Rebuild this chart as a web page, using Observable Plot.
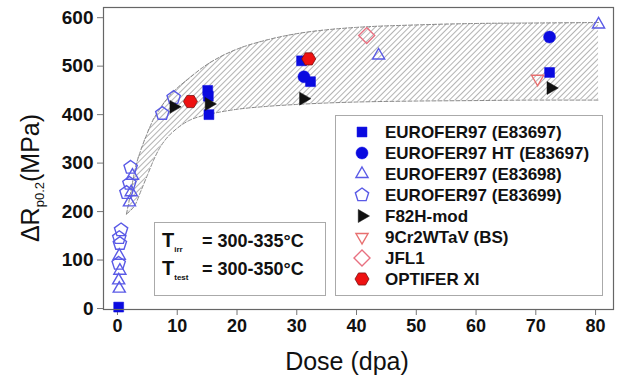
<!DOCTYPE html>
<html><head><meta charset="utf-8">
<script src="https://cdn.jsdelivr.net/npm/d3@7"></script>
<script src="https://cdn.jsdelivr.net/npm/@observablehq/plot@0.6"></script>
<style>
body{margin:0;background:#fff;font-family:"Liberation Sans",Arial,sans-serif}
#wrap{position:relative;width:630px;height:378px;overflow:hidden}
.ov{position:absolute}
</style></head><body><div id="wrap"></div>
<script>
// ---- tick labels
const xTicks = [0, 10, 20, 30, 40, 50, 60, 70, 80];
const yTicks = [0, 100, 200, 300, 400, 500, 600];

// ---- series (dose in dpa, ΔRp0.2 in MPa)
const e83697Dose = [0.2, 15.1, 15.2, 15.3, 30.8, 32.3, 72.3];
const e83697Val  = [3, 450, 438, 400, 511, 468, 487];
const e83697htDose = [31.2, 72.3];
const e83697htVal  = [478, 560];
const e83698Dose = [0.3, 0.2, 0.4, 0.3, 2.0, 2.3, 2.5, 43.7, 80.5];
const e83698Val  = [41, 58, 78, 109, 219, 240, 274, 522, 586];
const e83699Dose = [0.2, 0.4, 0.3, 0.6, 1.5, 2.0, 2.2, 7.5, 9.4];
const e83699Val  = [93, 134, 146, 162, 239, 258, 291, 402, 435];
const f82hDose = [9.4, 15.3, 31.1, 72.5];
const f82hVal  = [416, 422, 433, 455];
const cr9Dose = [70.3];
const cr9Val  = [474];
const jflDose = [41.7];
const jflVal  = [563];
const optDose = [12.2, 32.0];
const optVal  = [427, 515];

// ---- scatter band
const bandDose  = [1.5, 2, 3, 4, 5, 6, 7, 8, 10, 12, 14, 17, 20, 25, 30, 35, 40, 50, 60, 70, 80.5];
const bandLow   = [195, 200, 215, 245, 275, 305, 330, 348, 372, 388, 397, 405, 411, 417, 421, 424, 426, 428, 429, 430, 430];
const bandHigh  = [195, 225, 290, 330, 362, 390, 410, 428, 455, 475, 495, 518, 535, 554, 567, 575, 580, 585, 588, 589, 590];

const legendNames = ["EUROFER97 (E83697)", "EUROFER97 HT (E83697)", "EUROFER97 (E83698)", "EUROFER97 (E83699)", "F82H-mod", "9Cr2WTaV (BS)", "JFL1", "OPTIFER XI"];

// ---- custom symbols
const poly = (n, rot) => ({draw(ctx, size) {
  const r = Math.sqrt(size / Math.PI);
  for (let i = 0; i < n; i++) {
    const t = rot + 2 * Math.PI * i / n;
    const x = r * Math.cos(t), y = r * Math.sin(t);
    i ? ctx.lineTo(x, y) : ctx.moveTo(x, y);
  }
  ctx.closePath();
}});
const symUp = poly(3, -Math.PI / 2);
const symDown = poly(3, Math.PI / 2);
const symRight = poly(3, 0);
const symPent = poly(5, -Math.PI / 2);
const symDiam = poly(4, -Math.PI / 2);
const symHex = poly(6, 0);

const zip = (a, b) => a.map((d, i) => ({dose: d, val: b[i]}));
const band = bandDose.map((d, i) => ({dose: d, lo: bandLow[i], hi: bandHigh[i]}));

const series = [
  {name: legendNames[2], data: zip(e83698Dose, e83698Val), symbol: symUp, r: 7, fill: "none", stroke: "#5a5ae6", sw: 1.4},
  {name: legendNames[3], data: zip(e83699Dose, e83699Val), symbol: symPent, r: 7, fill: "none", stroke: "#5a5ae6", sw: 1.4},
  {name: legendNames[0], data: zip(e83697Dose, e83697Val), symbol: "square", r: 5.6, fill: "#0a0ae0", stroke: "#0a0ae0", sw: 0.5},
  {name: legendNames[1], data: zip(e83697htDose, e83697htVal), symbol: "circle", r: 6, fill: "#0a0ae0", stroke: "#0a0ae0", sw: 0.5},
  {name: legendNames[5], data: zip(cr9Dose, cr9Val), symbol: symDown, r: 7, fill: "none", stroke: "#e87070", sw: 1.4},
  {name: legendNames[6], data: zip(jflDose, jflVal), symbol: symDiam, r: 8, fill: "none", stroke: "#e87080", sw: 1.4},
  {name: legendNames[7], data: zip(optDose, optVal), symbol: symHex, r: 7, fill: "#ee1111", stroke: "#7a1010", sw: 0.8},
  {name: legendNames[4], data: zip(f82hDose, f82hVal), symbol: symRight, r: 7.5, fill: "#111", stroke: "#111", sw: 0.5},
];

const plot = Plot.plot({
  width: 630, height: 378,
  marginLeft: 103, marginRight: 17, marginTop: 7, marginBottom: 69,
  style: {fontFamily: "Liberation Sans, Arial, sans-serif", fontSize: "18px", fontWeight: "bold", background: "transparent"},
  x: {domain: [-2.34, 83], ticks: xTicks},
  y: {domain: [-2, 621], ticks: yTicks},
  marks: [
    Plot.areaY(band, {x: "dose", y1: "lo", y2: "hi", fill: "url(#hatch)", curve: "monotone-x"}),
    Plot.lineY(band, {x: "dose", y: "lo", stroke: "#888", strokeDasharray: "4,2", strokeWidth: 1, curve: "monotone-x"}),
    Plot.lineY(band, {x: "dose", y: "hi", stroke: "#888", strokeDasharray: "4,2", strokeWidth: 1, curve: "monotone-x"}),
    Plot.axisX({ticks: xTicks, tickSize: 6, tickPadding: 4, stroke: "#777", fill: "#111", fontSize: 18, label: null}),
    Plot.axisY({ticks: yTicks, tickSize: 6, tickPadding: 4, stroke: "#777", fill: "#111", fontSize: 19, label: null}),
    ...series.map(s => Plot.dot(s.data, {x: "dose", y: "val", symbol: s.symbol, r: s.r, fill: s.fill, stroke: s.stroke, strokeWidth: s.sw})),
    Plot.frame({stroke: "#666", strokeWidth: 1.2})
  ]
});

// hatch pattern
const ns = "http://www.w3.org/2000/svg";
const defs = document.createElementNS(ns, "defs");
defs.innerHTML = '<pattern id="hatch" patternUnits="userSpaceOnUse" width="4" height="4" patternTransform="rotate(45)"><rect width="4" height="4" fill="#fff"/><line x1="0" y1="0" x2="0" y2="4" stroke="#8a8a8a" stroke-width="1.3"/></pattern>';
plot.insertBefore(defs, plot.firstChild);

const wrap = document.getElementById("wrap");
wrap.appendChild(plot);
plot.style.position = "absolute"; plot.style.left = "0"; plot.style.top = "0";

// y label
const yl = document.createElement("div");
yl.className = "ov";
yl.style.cssText = "left:-80px;top:163px;width:220px;height:30px;transform:rotate(-90deg);text-align:center;font-size:25px;line-height:30px;color:#111";
yl.innerHTML = 'ΔR<sub style="font-size:13px;vertical-align:-5px">p0.2</sub>(MPa)';
wrap.appendChild(yl);

// x label
const xl = document.createElement("div");
xl.className = "ov";
xl.style.cssText = "left:247px;top:346px;width:200px;text-align:center;font-size:25px;line-height:30px;color:#111";
xl.textContent = "Dose (dpa)";
wrap.appendChild(xl);

// legend
const leg = d3.select(wrap).append("svg").attr("class", "ov")
  .style("left", "335px").style("top", "115px").attr("width", 268).attr("height", 181);
leg.append("rect").attr("x", 0.5).attr("y", 0.5).attr("width", 267).attr("height", 180).attr("fill", "#fff").attr("stroke", "#aaa");
legendNames.forEach((name, i) => {
  const s = series.find(t => t.name === name);
  const g = leg.append("g").attr("transform", `translate(27,${17 + i * 21})`);
  const type = s.symbol === "square" ? d3.symbolSquare : s.symbol === "circle" ? d3.symbolCircle : s.symbol;
  g.append("path").attr("d", d3.symbol(type, Math.PI * s.r * s.r)())
    .attr("fill", s.fill).attr("stroke", s.stroke).attr("stroke-width", s.sw);
  g.append("text").attr("x", 23).attr("y", 0).attr("dy", "0.36em")
    .attr("font-size", 17).attr("font-weight", "bold").attr("fill", "#111").text(name);
});

// temperature annotation
const ann = d3.select(wrap).append("svg").attr("class", "ov")
  .style("left", "154px").style("top", "222px").attr("width", 172).attr("height", 74);
ann.append("rect").attr("x", 0.5).attr("y", 0.5).attr("width", 171).attr("height", 73).attr("fill", "#fff").attr("stroke", "#aaa");
[["irr", "= 300-335°C", 25], ["test", "= 300-350°C", 53]].forEach(([sub, txt, y]) => {
  const t = ann.append("text").attr("y", y).attr("font-weight", "bold").attr("fill", "#111");
  t.append("tspan").attr("x", 8).attr("font-size", 20).text("T");
  t.append("tspan").attr("font-size", 8).attr("dy", 5).text(sub);
  ann.append("text").attr("x", 48).attr("y", y).attr("font-size", 18).attr("font-weight", "bold").attr("fill", "#111").text(txt);
});
</script></body></html>
